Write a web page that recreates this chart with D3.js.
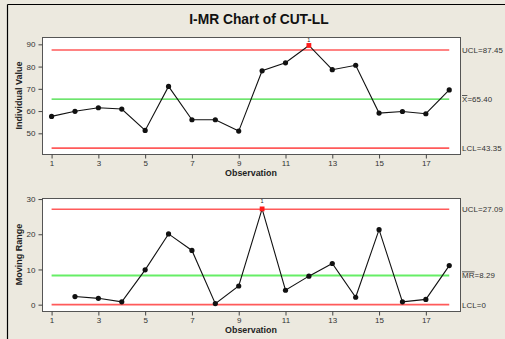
<!DOCTYPE html>
<html>
<head>
<meta charset="utf-8">
<script src="https://cdn.jsdelivr.net/npm/d3@7"></script>
<style>
  html, body { margin: 0; padding: 0; background: #ece9df; }
  svg { display: block; }
  text { font-family: "Liberation Sans", Arial, sans-serif; }
</style>
</head>
<body>
<script>
// Individual observations of CUT-LL
const observations = [1, 2, 3, 4, 5, 6, 7, 8, 9, 10, 11, 12, 13, 14, 15, 16, 17, 18];
const individualValues = [57.6, 59.9, 61.5, 60.9, 51.3, 71.1, 56.1, 56.1, 51.0, 78.1, 81.7, 89.5, 78.6, 80.6, 59.1, 59.8, 58.8, 69.5];
// Moving ranges start at observation 2
const mrObservations = [2, 3, 4, 5, 6, 7, 8, 9, 10, 11, 12, 13, 14, 15, 16, 17, 18];
const movingRanges = [2.3, 1.8, 0.8, 9.9, 20.1, 15.4, 0.3, 5.3, 27.2, 4.1, 8.1, 11.7, 2.1, 21.3, 0.8, 1.5, 11.1];

// Control limits
const iLimits = { ucl: 87.45, center: 65.40, lcl: 43.35 };
const mrLimits = { ucl: 27.09, center: 8.29, lcl: 0 };

const xTicks = [1, 3, 5, 7, 9, 11, 13, 15, 17];
const iTicks = [50, 60, 70, 80, 90];
const mrTicks = [0, 10, 20, 30];

const W = 505, H = 339;
const svg = d3.select("body").append("svg").attr("width", W).attr("height", H);

// Outer frame lines (left and top)
svg.append("line").attr("x1", 7.5).attr("x2", 7.5).attr("y1", 4.5).attr("y2", H).attr("stroke", "#000").attr("stroke-width", 1.2);
svg.append("line").attr("x1", 7.5).attr("x2", W).attr("y1", 4.5).attr("y2", 4.5).attr("stroke", "#000").attr("stroke-width", 1.2);

svg.append("text")
  .attr("x", 259).attr("y", 24)
  .attr("text-anchor", "middle")
  .attr("font-size", 13.8).attr("font-weight", "bold").attr("fill", "#111")
  .text("I-MR Chart of CUT-LL");

const left = 42, right = 460;
const x = d3.scaleLinear().domain([0.59, 18.46]).range([left, right]);

function panel(cfg) {
  const g = svg.append("g");
  const y = d3.scaleLinear().domain(cfg.domain).range([cfg.bottom, cfg.top]);

  g.append("rect")
    .attr("x", left + 0.5).attr("y", cfg.top + 0.5)
    .attr("width", right - left).attr("height", cfg.bottom - cfg.top)
    .attr("fill", "#fff").attr("stroke", "#555").attr("stroke-width", 1);

  // Axes
  const xa = g.append("g").attr("transform", `translate(0,${cfg.bottom + 0.5})`)
    .call(d3.axisBottom(x).tickValues(xTicks).tickSize(4).tickSizeOuter(0).tickPadding(2));
  const ya = g.append("g").attr("transform", `translate(${left + 0.5},0)`)
    .call(d3.axisLeft(y).tickValues(cfg.ticks).tickSize(4).tickSizeOuter(0).tickPadding(3));
  [xa, ya].forEach(a => {
    a.select(".domain").remove();
    a.selectAll(".tick line").attr("stroke", "#444");
    a.selectAll(".tick text").attr("font-size", 8).attr("fill", "#333")
      .attr("font-family", "'Liberation Sans', Arial, sans-serif");
  });

  // Axis titles
  g.append("text")
    .attr("x", 251).attr("y", cfg.bottom + 22)
    .attr("text-anchor", "middle").attr("font-size", 8.9).attr("font-weight", "bold").attr("fill", "#222")
    .text("Observation");
  g.append("text")
    .attr("transform", `translate(22,${(cfg.top + cfg.bottom) / 2}) rotate(-90)`)
    .attr("text-anchor", "middle").attr("font-size", 9).attr("font-weight", "bold").attr("fill", "#222")
    .text(cfg.ylabel);

  // Control limit and center lines
  const lx1 = x(1), lx2 = x(18);
  [[cfg.limits.ucl, "#ff5a5a", 1.6], [cfg.limits.lcl, "#ff5a5a", 1.6], [cfg.limits.center, cfg.centerColor, cfg.centerWidth]]
    .forEach(([v, c, w]) => {
      g.append("line").attr("x1", lx1).attr("x2", lx2)
        .attr("y1", y(v)).attr("y2", y(v))
        .attr("stroke", c).attr("stroke-width", w);
    });

  // Data line and points
  const pts = cfg.xs.map((o, i) => ({ o, v: cfg.values[i] }));
  g.append("path")
    .attr("d", d3.line().x(d => x(d.o)).y(d => y(d.v))(pts))
    .attr("fill", "none").attr("stroke", "#111").attr("stroke-width", 1.1);

  pts.forEach(d => {
    const out = d.v > cfg.limits.ucl || d.v < cfg.limits.lcl;
    if (out) {
      g.append("rect")
        .attr("x", x(d.o) - 2.4).attr("y", y(d.v) - 2.4)
        .attr("width", 4.8).attr("height", 4.8).attr("fill", "#ff1a1a");
      g.append("text")
        .attr("x", x(d.o)).attr("y", y(d.v) - cfg.flagGap)
        .attr("text-anchor", "middle").attr("font-size", 5.5).attr("fill", "#222")
        .text("1");
    } else {
      g.append("circle").attr("cx", x(d.o)).attr("cy", y(d.v)).attr("r", 2.6).attr("fill", "#111");
    }
  });

  // Limit labels on the right
  const lab = (v, parts) => {
    const t = g.append("text")
      .attr("x", 462).attr("y", y(v) + 3)
      .attr("font-size", 7.9).attr("fill", "#333").attr("letter-spacing", 0.1);
    parts.forEach(([s, over]) => {
      const ts = t.append("tspan").text(s);
      if (over) ts.style("text-decoration", "overline");
    });
  };
  lab(cfg.limits.ucl, [["UCL=" + cfg.limits.ucl.toFixed(2)]]);
  lab(cfg.limits.center, [[cfg.centerSym, true], ["=" + cfg.limits.center.toFixed(2)]]);
  lab(cfg.limits.lcl, [["LCL=" + (cfg.limits.lcl === 0 ? "0" : cfg.limits.lcl.toFixed(2))]]);
}

panel({
  top: 37, bottom: 154, domain: [40.7, 93.3], ticks: iTicks,
  ylabel: "Individual Value", xs: observations, values: individualValues,
  limits: iLimits, centerColor: "#3ddc3d", centerWidth: 1.2, centerSym: "X", flagGap: 3.5
});
panel({
  top: 198, bottom: 311, domain: [-1.8, 30.3], ticks: mrTicks,
  ylabel: "Moving Range", xs: mrObservations, values: movingRanges,
  limits: mrLimits, centerColor: "#66ee66", centerWidth: 1.8, centerSym: "MR", flagGap: 5.5
});
</script>
</body>
</html>
